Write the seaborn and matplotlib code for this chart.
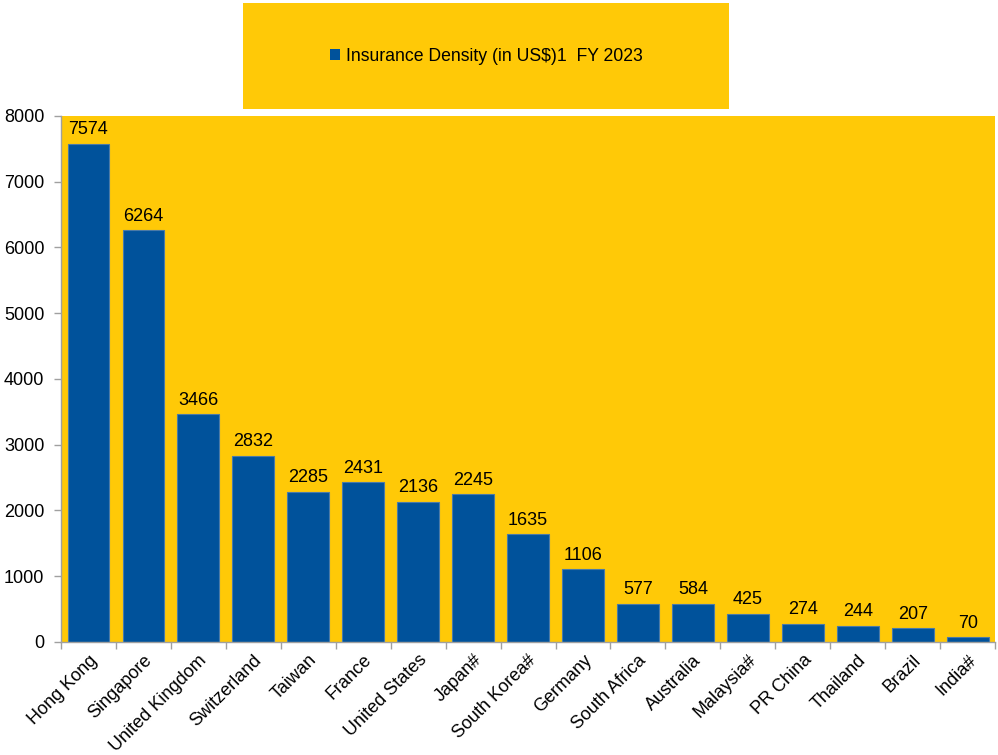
import pandas as pd
import matplotlib.pyplot as plt
import seaborn as sns
import numpy as np

# --- dados ---
paises = ["Hong Kong", "Singapore", "United Kingdom", "Switzerland", "Taiwan", "France",
          "United States", "Japan#", "South Korea#", "Germany", "South Africa", "Australia",
          "Malaysia#", "PR China", "Thailand", "Brazil", "India#"]
densidade = [7574, 6264, 3466, 2832, 2285, 2431, 2136, 2245, 1635, 1106, 577, 584,
             425, 274, 244, 207, 70]
rotulo_serie = "Insurance Density (in US$)1  FY 2023"

AMARELO = "#FFC907"
AZUL = "#00529B"

sns.set_theme(style="white")
plt.rcParams['font.family'] = ['Liberation Sans', 'DejaVu Sans']

df = pd.DataFrame({"Pais": paises, "Densidade": densidade})

fig = plt.figure(figsize=(9.98, 7.55), dpi=100)
ax = fig.add_axes([0.0611, 0.1497, 0.936, 0.6967])
ax.set_facecolor(AMARELO)

sns.barplot(data=df, x="Pais", y="Densidade", color=AZUL, saturation=1,
            width=0.76, edgecolor="#4a7aa8", linewidth=0.8, ax=ax)

ax.bar_label(ax.containers[0], padding=4, fontsize=13, color="black")

ax.set_ylim(0, 8000)
ax.set_xlim(-0.5, len(paises) - 0.5)
ax.set_yticks(range(0, 8001, 1000))
ax.set_xlabel("")
ax.set_ylabel("")

# tracinhos entre categorias, estilo Excel
ax.set_xticks(np.arange(-0.5, len(paises), 1), minor=True)
ax.tick_params(axis="x", which="minor", length=5, color="#a0a0a0", width=1, direction="out", bottom=True)
ax.tick_params(axis="x", which="major", length=0, pad=7)
ax.tick_params(axis="y", length=5, color="#a0a0a0", width=1, direction="out", left=True,
               labelsize=13, labelcolor="black", pad=7)
ax.set_xticks(range(len(paises)))
ax.set_xticklabels(paises, rotation=45, ha="right", rotation_mode="anchor", fontsize=13, color="black")

for lado in ["top", "right"]:
    ax.spines[lado].set_visible(False)
for lado in ["left", "bottom"]:
    ax.spines[lado].set_color("#a0a0a0")
    ax.spines[lado].set_linewidth(1)

# caixa da legenda
ax_leg = fig.add_axes([0.2435, 0.8556, 0.487, 0.1404])
ax_leg.set_facecolor(AMARELO)
ax_leg.set_xticks([])
ax_leg.set_yticks([])
for s in ax_leg.spines.values():
    s.set_visible(False)
handle = plt.Rectangle((0, 0), 1, 1, facecolor=AZUL, edgecolor="none")
leg = ax_leg.legend([handle], [rotulo_serie], loc="center", frameon=False, fontsize=12.7,
                    handlelength=0.6, handleheight=0.6, handletextpad=0.3)
for t in leg.get_texts():
    t.set_color("black")

plt.savefig("out.png", dpi=100)
plt.close()
